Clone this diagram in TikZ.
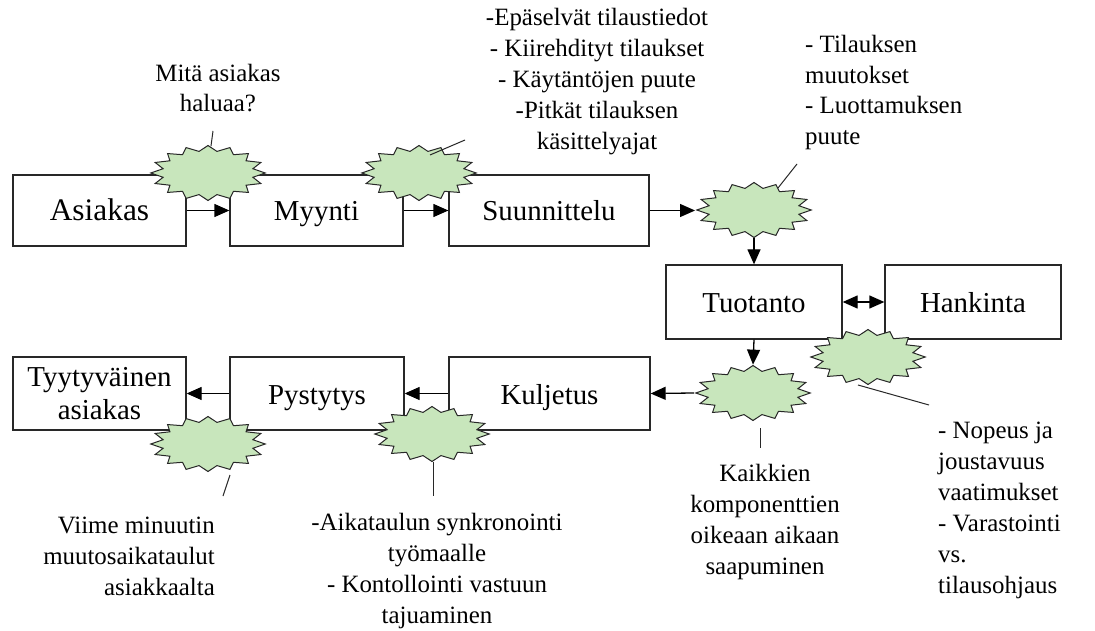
\documentclass[tikz,border=0pt]{standalone}
\usepackage{fontspec}
\setmainfont{Liberation Serif}
\usetikzlibrary{shapes.geometric, arrows.meta}
\definecolor{burstfill}{RGB}{200,230,188}
\definecolor{edge}{RGB}{40,40,40}

\begin{document}
\begin{tikzpicture}[x=1bp, y=-1bp,
  box/.style={draw=edge, line width=1.3bp, fill=white, inner sep=0,
    font=\fontsize{29}{33}\selectfont, align=center},
  oneline/.style={text height=27bp, text depth=6bp},
  burst/.style={star, star points=16, star point ratio=1.25, minimum size=55bp,
    inner sep=0, xscale=2.08, draw=edge, line width=1bp, fill=burstfill},
  tip/.tip={Triangle[length=15bp,width=13bp]},
  arr/.style={line width=1.3bp, draw=black, -tip},
  dblarr/.style={line width=1.3bp, draw=black, tip-tip},
  lead/.style={line width=1bp, draw=edge},
  note/.style={font=\fontsize{25}{31}\selectfont, inner sep=0}]

% canvas
\path[fill=white, use as bounding box] (0,0) rectangle (1095,631);

% process boxes
\node[box, oneline, minimum width=173bp, minimum height=71bp, font=\fontsize{31.5}{33}\selectfont] (asiakas)  at (99.5,210.5) {Asiakas};
\node[box, oneline, minimum width=173bp, minimum height=71bp] (myynti)   at (316.5,210.5) {Myynti};
\node[box, oneline, minimum width=200bp, minimum height=71bp] (suunn)    at (549,210.5) {Suunnittelu};
\node[box, oneline, minimum width=176bp, minimum height=74bp] (tuotanto) at (754,302) {Tuotanto};
\node[box, oneline, minimum width=176bp, minimum height=74bp] (hankinta) at (973,302) {Hankinta};
\node[box, oneline, minimum width=201bp, minimum height=73bp] (kuljetus) at (549.5,393.5) {Kuljetus};
\node[box, oneline, minimum width=174bp, minimum height=73bp] (pystytys) at (317,393.5) {Pystytys};
\node[box, minimum width=173bp, minimum height=73bp] (tyyty)    at (99.5,393.5) {Tyytyväinen\\asiakas};

% problem bursts
\node[burst] (s1) at (208,173) {};
\node[burst] (s2) at (419,173) {};
\node[burst] (s3) at (754,210) {};
\node[burst] (s4) at (868,357) {};
\node[burst] (s5) at (753,393) {};
\node[burst] (s6) at (208,444) {};
\node[burst] (s7) at (432,434) {};

% flow
\draw[arr] (asiakas.east) -- (myynti.west);
\draw[arr] (myynti.east) -- (suunn.west);
\draw[arr] (suunn.east) -- (suunn.east -| s3.outer point 5);
\draw[arr] (s3.outer point 9) -- (tuotanto.north);
\draw[dblarr] (tuotanto.east) -- (hankinta.west);
\draw[arr] (tuotanto.south) -- (s5.outer point 1);
\draw[arr] (s5.center -| s5.outer point 5) -- (kuljetus.east);
\draw[arr] (kuljetus.west) -- (pystytys.east);
\draw[arr] (pystytys.west) -- (tyyty.east);

% annotations
\node[note, align=center] (t1) at (218,88) {Mitä asiakas\\haluaa?};
\node[note, align=center] (t2) at (597,81.5) {-Epäselvät tilaustiedot\\- Kiirehdityt tilaukset\\- Käytäntöjen puute\\-Pitkät tilauksen\\käsittelyajat};
\node[note, align=left, anchor=west] (t3) at (805,92.5) {- Tilauksen\\muutokset\\- Luottamuksen\\puute};
\node[note, align=right, anchor=east] (t4) at (215,556) {Viime minuutin\\muutosaikataulut\\asiakkaalta};
\node[note, align=center] (t5) at (437,571) {-Aikataulun synkronointi\\työmaalle\\- Kontollointi vastuun\\tajuaminen};
\node[note, align=center] (t6) at (765,522) {Kaikkien\\komponenttien\\oikeaan aikaan\\saapuminen};
\node[note, align=left, anchor=west] (t7) at (938,510.5) {- Nopeus ja\\joustavuus\\vaatimukset\\- Varastointi\\vs.\\tilausohjaus};

% leader lines
\coordinate (l1a) at (213,131); \coordinate (l1b) at (211,146);
\coordinate (l2a) at (465,140); \coordinate (l2b) at (430,155);
\coordinate (l3a) at (797,164); \coordinate (l3b) at (778,188);
\coordinate (l4a) at (858,385); \coordinate (l4b) at (929,405);
\coordinate (l5a) at (760,428); \coordinate (l5b) at (760,448);
\coordinate (l6a) at (230,475); \coordinate (l6b) at (223,496);
\coordinate (l7a) at (433,462); \coordinate (l7b) at (433,496);
\foreach \k in {1,...,7} { \draw[lead] (l\k a) -- (l\k b); }
\end{tikzpicture}
\end{document}
